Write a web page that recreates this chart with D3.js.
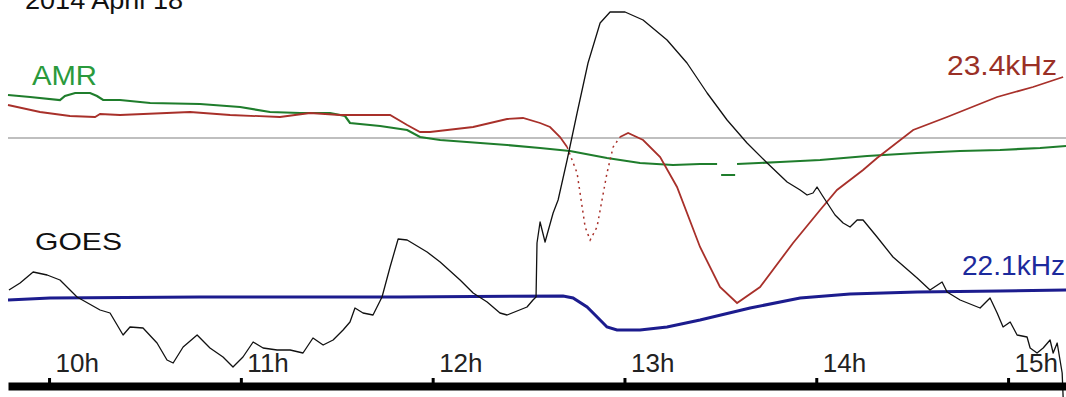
<!DOCTYPE html>
<html>
<head>
<meta charset="utf-8">
<script src="https://cdn.jsdelivr.net/npm/d3@7"></script>
<style>
  html, body { margin: 0; padding: 0; background: #fff; }
  svg { display: block; font-family: "Liberation Sans", Arial, sans-serif; }
</style>
</head>
<body>
<svg id="chart" width="1066" height="397"></svg>
<script>
// Time in decimal hours (UT); level = signal height above the time bar.
const hourTicks = [10, 11, 12, 13, 14, 15];
const hourLabels = ["10h", "11h", "12h", "13h", "14h", "15h"];
const refLevel = 242;

// GOES X-ray flux
const goesTime = [9.791, 9.849, 9.917, 9.990, 10.057, 10.146, 10.266, 10.318, 10.386, 10.422,
  10.490, 10.563, 10.615, 10.647, 10.699, 10.772, 10.839, 10.907, 10.959, 11.011,
  11.064, 11.116, 11.189, 11.257, 11.324, 11.376, 11.429, 11.481, 11.533, 11.569,
  11.595, 11.637, 11.689, 11.736, 11.778, 11.820, 11.867, 11.971, 12.039, 12.143,
  12.211, 12.284, 12.351, 12.388, 12.492, 12.523, 12.539, 12.544, 12.560, 12.586,
  12.628, 12.654, 12.701, 12.753, 12.810, 12.873, 12.925, 13.003, 13.097, 13.222,
  13.326, 13.431, 13.535, 13.639, 13.744, 13.848, 13.916, 13.952, 13.983, 14.004,
  14.030, 14.098, 14.140, 14.176, 14.213, 14.244, 14.317, 14.400, 14.526, 14.593,
  14.656, 14.682, 14.750, 14.854, 14.906, 14.943, 14.974, 15.011, 15.047, 15.099,
  15.115, 15.151, 15.183, 15.219, 15.235, 15.256, 15.282, 15.287];
const goesLevel = [90, 97, 108, 105, 100, 83, 70, 67, 45, 53,
  52, 37, 20, 17, 33, 45, 32, 23, 13, 23,
  38, 32, 30, 30, 27, 42, 35, 40, 50, 58,
  72, 67, 65, 83, 113, 141, 140, 128, 118, 100,
  87, 78, 67, 65, 73, 80, 83, 137, 158, 138,
  167, 180, 220, 267, 317, 357, 368, 368, 360, 340,
  317, 287, 260, 237, 217, 198, 190, 185, 187, 193,
  185, 165, 157, 153, 160, 160, 143, 123, 102, 90,
  98, 88, 80, 72, 82, 67, 53, 58, 45, 43,
  32, 27, 32, 40, 27, 37, 7, -17];

// AMR (green); null marks breaks in the record
const amrTime = [9.786, 9.901, 10.057, 10.083, 10.136, 10.214, 10.250, 10.282, 10.370, 10.527,
  10.787, 10.996, 11.152, 11.309, 11.465, 11.543, 11.569, 11.726, 11.867, 11.934,
  12.039, 12.388, 12.560, 12.716, 12.909, 13.081, 13.253, 13.394, 13.483, 13.493,
  13.504, 13.577, 13.582, 13.587, 13.811, 14.020, 14.265, 14.526, 14.750, 14.958,
  15.167, 15.302];
const amrLevel = [285, 283, 280, 284, 287, 287, 284, 280, 280, 277,
  276, 273, 268, 267, 267, 264, 257, 254, 250, 243,
  240, 235, 232, 229, 222, 217, 215, 216, 216, null,
  205, 205, null, 216, 218, 220, 224, 227, 229, 230,
  232, 234];

// 23.4 kHz (red)
const k234Time = [9.786, 9.953, 10.109, 10.240, 10.266, 10.370, 10.735, 10.944, 11.204, 11.361,
  11.517, 11.778, 11.867, 11.934, 11.986, 12.211, 12.388, 12.471, 12.560, 12.612,
  12.664, 12.701, 12.753, 12.795, 12.821, 12.857, 12.909, 12.941, 12.977, 13.019,
  13.097, 13.186, 13.274, 13.394, 13.498, 13.587, 13.707, 13.879, 14.020, 14.108,
  14.244, 14.317, 14.505, 14.682, 14.943, 15.130, 15.287];
const k234Level = [275, 268, 264, 263, 266, 265, 268, 265, 263, 267,
  265, 265, 255, 248, 248, 253, 261, 262, 257, 253,
  243, 233, 207, 153, 140, 153, 207, 233, 243, 247,
  240, 223, 193, 133, 93, 77, 93, 137, 170, 190,
  210, 222, 250, 263, 283, 293, 303];
const k234Sparse = [12.701, 12.977]; // steep stretch drawn as dots

// 22.1 kHz (blue)
const k221Time = [9.786, 10.005, 10.787, 11.830, 12.680, 12.732, 12.805, 12.873, 12.909, 12.961,
  13.081, 13.222, 13.394, 13.655, 13.916, 14.176, 14.526, 14.958, 15.302];
const k221Level = [80, 82, 83, 83, 84, 82, 73, 60, 53, 50,
  50, 53, 60, 72, 82, 86, 88, 89, 90];

const svg = d3.select("#chart");
const W = 1066;

const x = d3.scaleLinear().domain([9.786, 15.302]).range([8, 1066]);
const y = d3.scaleLinear().domain([0, 380]).range([380, 0]);

const zip = (ts, vs) => ts.map((t, i) => ({ t, v: vs[i] }));
const line = d3.line()
  .defined(d => d.v !== null)
  .x(d => x(d.t))
  .y(d => y(d.v));

// reference level
svg.append("line")
  .attr("x1", x(9.786)).attr("x2", W)
  .attr("y1", y(refLevel)).attr("y2", y(refLevel))
  .attr("stroke", "#aaa").attr("stroke-width", 1.5);

// AMR
svg.append("path")
  .datum(zip(amrTime, amrLevel))
  .attr("d", line)
  .attr("fill", "none").attr("stroke", "#1f7d2c").attr("stroke-width", 2.2);

// 23.4 kHz
const red = zip(k234Time, k234Level);
const [s0, s1] = k234Sparse;
[red.filter(d => d.t <= s0), red.filter(d => d.t >= s1)].forEach(seg => {
  svg.append("path").datum(seg).attr("d", line)
    .attr("fill", "none").attr("stroke", "#a8302a").attr("stroke-width", 1.8);
});
svg.append("path").datum(red.filter(d => d.t >= s0 && d.t <= s1)).attr("d", line)
  .attr("fill", "none").attr("stroke", "#a8302a").attr("stroke-width", 1.5)
  .attr("stroke-dasharray", "2,4");

// 22.1 kHz
svg.append("path")
  .datum(zip(k221Time, k221Level))
  .attr("d", line)
  .attr("fill", "none").attr("stroke", "#1c1c8e").attr("stroke-width", 3);

// GOES
svg.append("path")
  .datum(zip(goesTime, goesLevel))
  .attr("d", line)
  .attr("fill", "none").attr("stroke", "#111").attr("stroke-width", 1.3)
  .attr("stroke-linejoin", "round");

// time bar
const axis = d3.axisTop(x)
  .tickValues(hourTicks)
  .tickFormat((d, i) => hourLabels[i])
  .tickSizeInner(8)
  .tickSizeOuter(0);
const gAxis = svg.append("g").attr("transform", "translate(0,386)").call(axis);
gAxis.select(".domain").attr("stroke", "#000").attr("stroke-width", 8);
gAxis.selectAll(".tick line").attr("stroke", "#000").attr("stroke-width", 3);
gAxis.selectAll(".tick text")
  .attr("x", 6).attr("y", -14).attr("dy", 0)
  .attr("text-anchor", "start")
  .attr("font-size", 26)
  .attr("font-family", "Liberation Sans, Arial, sans-serif")
  .attr("fill", "#222");

// labels
const label = (txt, px, py, size, color, len) => svg.append("text")
  .attr("x", px).attr("y", py)
  .attr("font-size", size).attr("fill", color)
  .attr("textLength", len).attr("lengthAdjust", "spacingAndGlyphs")
  .text(txt);

label("2014 April 18", 25, 9, 26, "#111", 158);
label("AMR", 32, 85, 28, "#2a9a3c", 65);
label("23.4kHz", 947, 75, 28, "#9a3026", 110);
label("GOES", 35, 250, 24, "#111", 87);
label("22.1kHz", 962, 275, 28, "#1c2a9c", 103);
</script>
</body>
</html>
